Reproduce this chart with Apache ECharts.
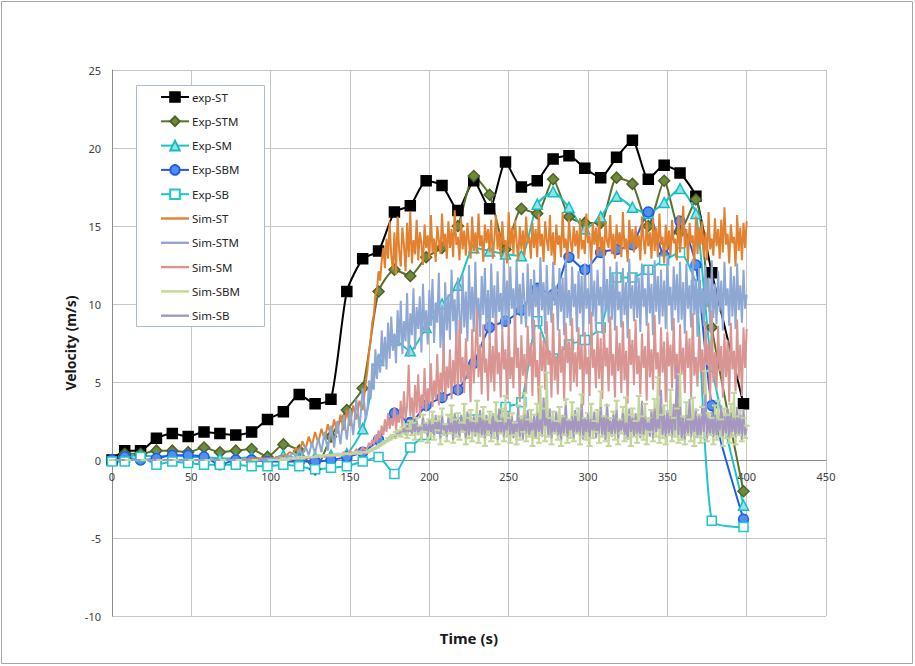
<!DOCTYPE html>
<html>
<head>
<meta charset="utf-8">
<script src="https://cdn.jsdelivr.net/npm/echarts@6/dist/echarts.min.js"></script>
<style>
html,body{margin:0;padding:0;background:#fff;}
#chart{width:915px;height:666px;}
</style>
</head>
<body>
<div id="chart"></div>
<script>
// ---------- Data ----------
const xTicks = [0, 50, 100, 150, 200, 250, 300, 350, 400, 450];
const yTicks = [-10, -5, 0, 5, 10, 15, 20, 25];

const seriesNames = ['exp-ST','Exp-STM','Exp-SM','Exp-SBM','Exp-SB','Sim-ST','Sim-STM','Sim-SM','Sim-SBM','Sim-SB'];

// experimental sample times (s)
const expT = [0,8,18,28,38,48,58,68,78,88,98,108,118,128,138,148,158,168,178,188,198,208,218,228,238,248,258,268,278,288,298,308,318,328,338,348,358,368,378,398];

const expST  = [0,0.6,0.6,1.4,1.7,1.5,1.8,1.7,1.6,1.8, 2.6,3.1,4.2,3.6,3.9,10.8,12.9,13.4,15.9,16.3, 17.9,17.6,16.0,17.9,16.1,19.1,17.5,17.9,19.3,19.5, 18.7,18.1,19.4,20.5,18.0,18.9,18.4,16.9,12.0,3.6];
const expSTM = [0,0.4,0.4,0.6,0.6,0.5,0.8,0.5,0.6,0.7, 0.2,1.0,0.6,-0.6,1.5,3.2,4.6,10.8,12.2,11.8, 13.0,13.6,15.0,18.2,17.0,13.5,16.1,15.8,18.0,15.6, 15.2,15.2,18.1,17.7,15.0,17.9,14.6,16.7,8.5,-2.0];
const expSM  = [0,0.2,0.3,0.2,0.3,0.2,0.2,0.1,0.1,0.2, 0.0,0.3,0.1,0.2,0.3,0.4,2.0,6.4,7.7,7.0, 8.5,10.0,11.2,13.6,13.4,13.2,13.1,16.4,17.2,16.2, 14.8,15.6,16.9,16.2,15.8,16.5,17.4,15.8,6.0,-2.9];
const expSBM = [0,0.2,0.0,0.1,0.3,0.3,0.2,-0.3,0.0,0.0, -0.1,-0.1,-0.1,-0.1,0.0,0.2,0.5,1.3,3.0,2.4, 3.5,4.0,4.5,6.2,8.5,8.9,9.6,11.0,10.6,13.0, 12.2,13.3,13.5,13.8,15.9,13.1,15.3,12.5,3.5,-3.8];
const expSB  = [-0.1,-0.1,0.2,-0.3,-0.1,-0.2,-0.3,-0.3,-0.3,-0.4, -0.4,-0.3,-0.4,-0.6,-0.5,-0.4,-0.1,0.2,-0.9,0.8, 1.6,2.0,2.4,2.6,2.3,3.4,3.7,8.9,6.5,7.4, 7.7,8.5,11.7,11.7,12.2,12.8,13.3,11.2,-3.9,-4.3];

// simulation sample times (s): 0-100 every 10 s, 102-160 every 2 s, 161-400 every 1 s
const simT = [
  0,10,20,30,40,50,60,70,80,90,100,
  102,104,106,108,110,112,114,116,118,120,
  122,124,126,128,130,132,134,136,138,140,
  142,144,146,148,150,152,154,156,158,160,
  161,162,163,164,165,166,167,168,169,170,
  171,172,173,174,175,176,177,178,179,180,
  181,182,183,184,185,186,187,188,189,190,
  191,192,193,194,195,196,197,198,199,200,
  201,202,203,204,205,206,207,208,209,210,
  211,212,213,214,215,216,217,218,219,220,
  221,222,223,224,225,226,227,228,229,230,
  231,232,233,234,235,236,237,238,239,240,
  241,242,243,244,245,246,247,248,249,250,
  251,252,253,254,255,256,257,258,259,260,
  261,262,263,264,265,266,267,268,269,270,
  271,272,273,274,275,276,277,278,279,280,
  281,282,283,284,285,286,287,288,289,290,
  291,292,293,294,295,296,297,298,299,300,
  301,302,303,304,305,306,307,308,309,310,
  311,312,313,314,315,316,317,318,319,320,
  321,322,323,324,325,326,327,328,329,330,
  331,332,333,334,335,336,337,338,339,340,
  341,342,343,344,345,346,347,348,349,350,
  351,352,353,354,355,356,357,358,359,360,
  361,362,363,364,365,366,367,368,369,370,
  371,372,373,374,375,376,377,378,379,380,
  381,382,383,384,385,386,387,388,389,390,
  391,392,393,394,395,396,397,398,399,400
];

const simST = [
  0,0,0,0,0,0,0,0,0,0.1,0.1,
  0.1,0.2,0.2,0.3,0.3,0.5,0.4,0.8,0.5,1.2,
  0.7,1.5,0.9,1.8,1.1,2.0,1.3,2.3,1.5,2.6,
  1.7,2.9,1.9,3.2,2.2,3.5,2.6,3.8,3.2,5.0,
  5.8,6.9,7.6,8.8,9.3,10.6,10.9,12.1,11.5,12.8,
  13.6,12.3,14.2,12.9,15.3,13.1,12.2,14.6,11.9,15.6,
  13.4,12.4,14.9,13.8,12.1,15.2,13.0,15.9,12.6,14.1,
  13.2,15.4,12.8,14.6,13.9,12.5,15.1,13.6,14.4,12.9,
  15.7,13.3,14.2,12.7,15.0,14.1,13.2,15.8,13.7,14.5,
  12.9,15.3,13.6,14.8,13.0,16.0,13.8,14.3,12.8,15.5,
  13.5,14.7,13.1,15.2,14.0,12.9,15.6,13.4,14.6,13.2,
  15.8,13.7,14.4,12.7,15.1,13.9,14.8,13.3,15.4,12.9,
  14.2,15.7,13.5,14.6,13.0,15.3,13.8,14.1,12.6,15.9,
  13.6,14.9,13.2,15.4,14.0,12.8,15.0,13.5,14.7,13.1,
  15.6,13.9,14.3,12.9,15.2,13.6,14.8,13.0,15.8,13.7,
  14.5,12.7,15.3,14.1,13.4,15.7,13.1,14.6,12.5,15.1,
  13.8,14.4,13.0,15.9,13.6,14.2,12.8,15.4,14.0,13.3,
  15.0,13.7,14.7,12.9,15.5,13.5,14.1,13.2,15.8,13.9,
  14.4,12.6,15.2,13.8,14.9,13.1,15.6,13.4,14.3,12.8,
  15.3,14.0,13.6,15.7,13.2,14.5,12.9,15.1,13.8,14.6,
  13.0,15.9,13.5,14.2,12.7,15.4,13.9,14.8,13.3,15.0,
  13.6,14.4,12.8,15.6,14.1,13.2,15.3,13.7,14.6,12.9,
  15.5,13.4,14.9,13.0,15.8,13.8,14.3,12.6,15.1,13.5,
  14.7,13.1,15.4,13.9,14.2,12.8,15.7,13.3,14.5,16.3,
  13.6,14.8,12.7,15.2,13.9,14.4,12.5,15.6,13.2,14.9,
  13.8,15.3,13.0,14.6,12.8,15.9,13.5,14.2,13.1,15.5,
  13.7,14.8,12.9,15.4,13.3,16.2,13.8,14.5,12.6,15.1,
  13.9,14.3,12.4,15.7,13.4,14.9,12.8,15.2,13.6,15.3
];

const simSTM = [
  0,0,0,0,0,0,0,0,0,0,0.1,
  0.1,0.1,0.2,0.1,0.3,0.2,0.5,0.2,0.7,0.3,
  0.9,0.3,1.1,0.4,1.4,0.5,1.8,0.6,2.2,0.8,
  2.5,1.0,2.9,1.3,3.3,1.6,3.9,2.0,4.6,2.6,
  3.2,5.1,3.9,6.2,4.5,7.1,5.2,6.8,5.6,8.3,
  6.0,7.9,5.8,8.8,6.5,9.2,7.0,8.1,6.2,9.6,
  7.3,10.2,6.8,8.9,7.6,10.7,6.6,9.4,8.0,11.0,
  7.1,9.8,8.4,10.5,6.9,11.3,8.2,9.6,7.4,10.9,
  8.6,11.6,7.5,10.1,8.8,12.0,7.2,9.9,6.7,11.4,
  8.3,10.6,7.7,12.2,8.9,10.3,7.3,11.7,9.2,8.1,
  11.9,8.5,10.8,7.6,12.5,9.0,11.1,8.2,12.7,8.8,
  10.4,7.9,11.8,9.3,12.3,8.4,10.9,7.7,12.6,9.1,
  11.2,8.0,12.1,9.5,10.7,8.3,12.9,9.0,11.5,8.6,
  12.4,9.7,11.0,8.2,12.8,9.4,11.3,8.7,12.0,10.0,
  8.5,12.6,9.2,11.6,7.9,12.2,9.8,11.1,8.4,13.0,
  9.6,11.4,8.1,12.5,9.3,10.8,8.8,12.7,9.9,11.2,
  8.3,12.3,9.5,11.7,8.0,12.9,9.1,10.9,8.6,12.4,
  9.8,11.3,8.2,12.1,9.4,11.8,7.9,12.6,9.7,11.0,
  8.7,12.8,9.2,11.5,8.4,12.2,9.9,11.1,8.1,13.1,
  9.5,11.6,8.8,12.4,9.0,11.9,8.3,12.7,9.6,10.8,
  8.5,12.3,9.3,11.4,7.8,12.9,9.7,11.2,8.9,12.0,
  9.1,11.7,8.2,12.6,9.8,11.0,8.6,12.5,9.4,11.3,
  8.0,12.8,9.5,11.8,8.7,12.2,9.2,11.5,8.4,13.0,
  9.9,11.1,8.3,12.4,9.6,11.9,8.8,12.7,9.0,11.4,
  8.1,12.6,9.7,11.2,8.5,12.9,9.3,11.6,7.9,12.3,
  9.4,11.0,8.6,12.5,9.8,11.7,8.2,12.8,9.1,11.3,
  8.7,12.1,9.5,11.5,8.3,12.7,9.9,11.0,8.6,12.4,
  9.2,11.8,8.4,12.6,9.6,11.2,8.8,12.2,9.7,10.6
];

const simSM = [
  0,0,0,0,0,0,0,0,0,0,0,
  0.0,0.0,0.1,0.0,0.1,0.1,0.1,0.1,0.2,0.1,
  0.2,0.1,0.2,0.2,0.3,0.2,0.3,0.2,0.4,0.3,
  0.4,0.3,0.5,0.4,0.6,0.4,0.7,0.5,0.8,0.6,
  0.8,1.1,0.9,1.3,1.0,1.6,1.2,1.9,1.4,2.2,
  1.6,2.6,1.8,3.0,2.0,2.7,2.2,3.4,1.9,2.9,
  2.4,3.8,2.1,4.4,2.6,3.5,6.1,2.8,4.0,2.5,
  4.8,3.0,5.5,2.7,4.2,3.3,5.9,3.1,4.6,3.6,
  6.2,3.4,5.1,3.9,6.8,3.5,5.6,4.3,7.5,3.8,
  6.0,4.6,7.1,3.9,6.4,4.8,8.2,4.1,9.0,5.0,
  6.6,4.3,7.8,5.2,6.1,3.7,8.4,4.9,7.0,9.6,
  5.3,7.4,4.2,8.7,5.6,6.5,3.8,8.1,5.0,7.3,
  4.4,9.1,5.5,6.9,4.0,8.3,5.8,7.1,3.9,8.8,
  5.2,6.6,4.6,9.3,5.9,7.2,3.7,8.0,5.4,6.8,
  4.3,8.6,6.0,7.5,4.1,9.0,5.3,6.4,3.6,8.2,
  5.7,7.7,4.5,8.9,6.1,7.0,4.0,9.4,5.1,6.7,
  4.2,8.4,5.6,7.3,3.8,8.8,6.2,7.6,4.4,9.1,
  5.0,6.9,4.7,8.5,5.8,7.4,3.5,8.2,5.5,6.6,
  4.1,9.5,5.9,7.1,4.6,8.3,5.2,7.8,3.9,8.7,
  6.0,7.2,4.4,9.2,5.4,6.8,4.0,8.6,5.7,7.5,
  4.3,8.9,5.1,7.0,3.6,8.4,6.1,7.7,4.8,9.0,
  5.5,6.7,4.2,8.1,5.9,7.3,3.8,8.8,5.3,7.1,
  4.5,9.3,5.8,6.9,4.1,8.5,5.6,7.6,3.7,8.2,
  6.0,7.4,4.6,9.1,5.2,6.8,4.0,8.7,5.5,7.2,
  4.3,8.3,5.9,7.8,3.9,9.4,5.4,6.6,4.7,8.0,
  5.6,7.1,4.2,8.9,6.1,7.5,3.8,9.6,5.0,6.9,
  4.5,8.6,5.7,7.3,4.0,8.1,5.3,7.7,3.7,8.8,
  5.8,7.0,4.4,9.0,5.2,7.4,4.1,8.5,5.9,8.4
];

const simSBM = [
  0,0,0,0,0,0,0,0,0,0,0,
  0.0,0.0,0.0,0.1,0.0,0.1,0.1,0.1,0.2,0.1,
  0.2,0.2,0.2,0.2,0.3,0.2,0.3,0.3,0.3,0.3,
  0.4,0.3,0.4,0.4,0.4,0.4,0.5,0.4,0.5,0.5,
  0.5,0.6,0.6,0.7,0.7,0.8,0.8,0.9,1.0,1.0,
  1.1,1.2,1.2,1.4,1.3,1.5,1.6,1.4,1.8,1.6,
  1.9,1.5,2.1,1.7,2.3,1.4,2.0,2.5,1.6,2.4,
  1.3,2.7,1.7,2.2,1.2,2.9,1.8,2.4,1.1,2.6,
  1.5,3.1,1.3,2.5,1.9,2.8,1.0,3.3,1.6,2.3,
  1.2,2.9,1.7,3.5,1.1,2.6,1.5,3.0,1.3,2.4,
  1.8,3.6,1.0,2.7,1.4,3.2,1.2,2.5,1.7,3.8,
  1.1,2.8,1.5,3.4,0.9,2.6,1.6,3.1,1.2,2.9,
  1.4,3.7,1.0,2.5,1.7,3.3,1.2,4.1,1.5,2.7,
  1.1,3.0,1.6,2.4,1.0,3.5,1.3,2.8,1.8,4.3,
  1.2,2.6,1.5,3.2,0.9,2.9,1.4,3.6,1.1,4.7,
  1.6,3.3,1.2,5.6,1.5,2.7,1.0,3.1,1.7,2.5,
  1.3,3.4,0.9,2.8,1.6,3.9,1.1,2.6,1.4,3.7,
  1.2,2.9,1.7,3.3,1.0,4.2,1.5,2.7,1.3,3.0,
  0.9,3.6,1.4,2.5,1.8,3.2,1.1,4.4,1.5,2.8,
  1.2,3.5,0.9,2.7,1.6,3.1,1.3,3.8,1.0,2.6,
  1.7,3.4,1.2,4.0,1.4,2.9,0.9,3.3,1.5,2.5,
  1.1,4.1,1.6,2.8,1.3,3.6,1.0,2.7,1.8,3.2,
  1.2,3.9,1.5,5.3,1.1,2.9,1.4,3.5,1.0,3.1,
  1.6,4.5,1.2,2.7,1.5,3.3,1.1,5.5,1.3,2.8,
  1.0,3.7,1.6,2.6,1.2,4.0,0.9,3.2,1.5,2.9,
  1.1,3.4,1.4,5.7,1.2,3.0,1.6,2.7,1.0,3.5,
  1.3,3.8,1.5,2.6,0.9,3.3,1.4,2.9,1.1,3.6,
  1.5,4.3,1.0,2.8,1.6,3.2,1.2,2.7,1.4,2.2
];

const simSB = [
  0,0,0,0,0,0,0,0,0,0,0,
  0.0,0.0,0.0,0.0,0.1,0.0,0.1,0.1,0.1,0.1,
  0.1,0.2,0.1,0.2,0.2,0.2,0.2,0.3,0.2,0.3,
  0.3,0.3,0.3,0.4,0.3,0.4,0.4,0.4,0.5,0.4,
  0.5,0.5,0.6,0.6,0.7,0.7,0.8,0.9,0.9,1.0,
  1.1,1.1,1.2,1.3,1.3,1.5,1.4,1.6,1.5,1.8,
  1.6,1.9,1.7,2.1,1.6,2.2,1.8,2.0,1.7,2.3,
  1.8,2.5,1.6,2.2,1.9,2.7,1.7,2.4,1.5,2.6,
  1.8,2.3,1.6,2.9,1.7,2.5,1.4,2.8,1.9,2.2,
  1.5,2.7,1.8,2.4,1.3,3.0,1.7,2.6,1.5,2.9,
  1.9,2.3,1.4,3.1,1.6,2.5,1.8,2.8,1.5,2.4,
  1.7,3.2,1.6,2.6,1.4,2.9,1.9,2.3,1.5,3.0,
  1.8,2.5,1.3,3.3,1.7,2.7,1.5,2.4,1.9,3.1,
  1.6,2.8,1.4,2.5,1.8,3.4,1.5,2.6,1.3,2.9,
  1.7,3.2,1.6,2.4,1.9,2.8,1.4,3.0,1.8,2.6,
  1.5,4.0,2.2,2.7,1.6,3.3,1.4,2.5,1.8,3.1,
  1.6,2.4,1.3,2.9,1.7,3.5,1.5,2.6,1.9,2.8,
  1.4,3.2,1.7,2.5,1.6,3.6,1.3,2.7,1.8,3.0,
  1.5,2.6,1.9,3.1,1.4,2.4,1.7,3.4,1.6,2.8,
  1.3,3.6,1.8,2.5,1.5,2.9,1.7,3.2,1.4,2.6,
  1.9,3.0,1.6,2.4,1.3,3.3,1.8,2.7,1.5,3.0,
  1.7,2.5,1.4,3.8,1.6,2.8,1.9,2.4,1.5,3.1,
  1.4,3.3,1.8,2.6,2.0,4.5,1.6,2.9,1.5,3.2,
  1.7,2.8,1.5,3.6,1.9,6.0,1.6,3.4,1.4,2.7,
  1.3,2.9,1.7,3.9,1.5,2.6,1.8,3.3,1.4,2.8,
  1.6,3.5,1.8,4.2,1.4,2.7,1.7,3.1,1.5,2.9,
  1.6,2.6,1.9,3.5,1.5,2.8,1.7,3.3,1.4,3.0,
  1.8,2.7,1.5,3.4,1.6,2.9,1.3,3.2,1.6,2.0
];

// ---------- Chart ----------
const FONT = '"Noto Sans", "Open Sans", sans-serif';
const LINE_ICON = 'path://M0,0H28V2.4H0Z';
function pairs(ts, vs) { return ts.map((t, i) => [t, vs[i]]); }

function expSeries(name, vals, symbol, size, lineColor, fill, border) {
  return {
    name: name, type: 'line', data: pairs(expT, vals), z: 2,
    smooth: 0.2, symbol: symbol, symbolSize: size, showSymbol: true, showAllSymbol: true,
    lineStyle: { color: lineColor, width: 2 },
    itemStyle: { color: fill, borderColor: border, borderWidth: 1.5 },
    emphasis: { disabled: true }
  };
}
function simSeries(name, vals, color, marker) {
  return {
    name: name, type: 'line', data: pairs(simT, vals), z: 3,
    symbol: marker ? 'rect' : 'none',
    symbolSize: marker ? [6, 2] : 0,
    showSymbol: !!marker, showAllSymbol: true,
    lineStyle: { color: color, width: 2 },
    itemStyle: { color: color, borderWidth: 0 },
    emphasis: { disabled: true }
  };
}

const legendData = seriesNames.map(n => n.indexOf('Sim') === 0 ? { name: n, icon: LINE_ICON } : { name: n });

const chart = echarts.init(document.getElementById('chart'), null, { renderer: 'svg' });
chart.setOption({
  animation: false,
  backgroundColor: '#ffffff',
  grid: { left: 112, right: 89, top: 70, bottom: 50, containLabel: false },
  xAxis: {
    type: 'value', min: xTicks[0], max: xTicks[xTicks.length - 1], interval: 50,
    offset: -156,
    axisLine: { show: true, onZero: false, lineStyle: { color: '#8C8C8C', width: 1 } },
    axisTick: { show: false },
    axisLabel: { fontSize: 11, color: '#404040', margin: 11, fontFamily: FONT },
    splitLine: { show: true, lineStyle: { color: '#C6C6C6', width: 1 } }
  },
  yAxis: {
    type: 'value', min: yTicks[0], max: yTicks[yTicks.length - 1], interval: 5,
    axisLine: { show: true, onZero: false, lineStyle: { color: '#8C8C8C', width: 1 } },
    axisTick: { show: false },
    axisLabel: { fontSize: 11, color: '#404040', margin: 11, fontFamily: FONT },
    splitLine: { show: true, lineStyle: { color: '#C6C6C6', width: 1 } }
  },
  legend: {
    data: legendData,
    orient: 'vertical', left: 160, top: 91, z: 20,
    itemWidth: 28, itemHeight: 12, itemGap: 12.3, padding: 0,
    symbolKeepAspect: true,
    textStyle: { fontSize: 11.5, color: '#262626', fontFamily: FONT, padding: [0, 0, 0, -2] },
    selectedMode: false
  },
  graphic: [
    { type: 'rect', z: 100, silent: true, shape: { x: 1.5, y: 1.5, width: 911, height: 662 },
      style: { fill: 'none', stroke: '#A6A6A6', lineWidth: 1 } },
    { type: 'rect', z: 10, silent: true, shape: { x: 136.5, y: 85.5, width: 128, height: 241 },
      style: { fill: '#ffffff', stroke: '#A9BDD8', lineWidth: 1 } },
    { type: 'text', z: 100, silent: true, x: 70, y: 343, rotation: Math.PI / 2,
      style: { text: 'Velocity (m/s)', font: 'bold 14px ' + FONT, fill: '#1a1a1a',
               align: 'center', verticalAlign: 'middle', textAlign: 'center', textVerticalAlign: 'middle' } },
    { type: 'text', z: 100, silent: true, x: 469, y: 638,
      style: { text: 'Time (s)', font: 'bold 15px ' + FONT, fill: '#1a1a1a',
               align: 'center', verticalAlign: 'middle', textAlign: 'center', textVerticalAlign: 'middle' } }
  ],
  series: [
    expSeries(seriesNames[0], expST,  'rect',     10, '#000000', '#000000', '#000000'),
    expSeries(seriesNames[1], expSTM, 'diamond',  11, '#5A7229', '#6E8B3D', '#4F6228'),
    expSeries(seriesNames[2], expSM,  'triangle', 10, '#1CC4C6', '#8FE6E8', '#17BCC0'),
    expSeries(seriesNames[3], expSBM, 'circle',   10, '#1F5BEA', '#4F8FF0', '#1F5BEA'),
    expSeries(seriesNames[4], expSB,  'rect',      9, '#1FC4CC', '#ffffff', '#1FC4CC'),
    simSeries(seriesNames[5], simST,  '#E2812F'),
    simSeries(seriesNames[6], simSTM, '#8EA7D3'),
    simSeries(seriesNames[7], simSM,  '#D99591'),
    simSeries(seriesNames[8], simSBM, '#C3D69B', true),
    simSeries(seriesNames[9], simSB,  '#A597C2')
  ]
});
</script>
</body>
</html>
